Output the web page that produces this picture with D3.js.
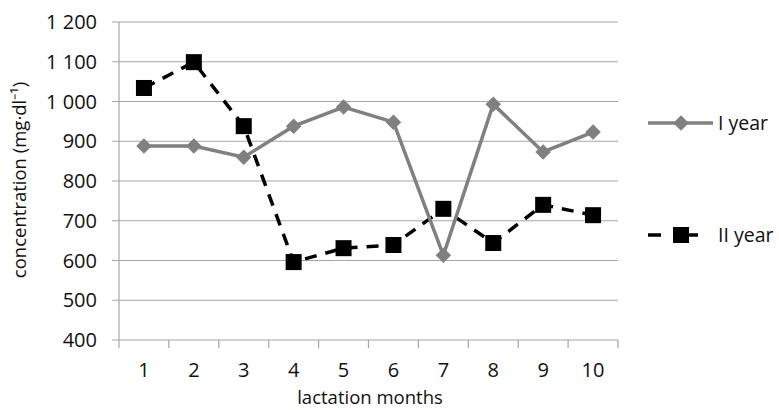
<!DOCTYPE html>
<html><head><meta charset="utf-8">
<script src="https://cdn.jsdelivr.net/npm/d3@7"></script>
<style>body{margin:0;background:#fff}</style>
</head><body>
<svg id="c" width="779" height="410"></svg>
<script>
const months = ["1","2","3","4","5","6","7","8","9","10"];
const yearI = [888, 888, 860, 938, 986, 948, 613, 993, 873, 923];
const yearII = [1034, 1099, 938, 596, 631, 639, 730, 644, 740, 714];
const yTicks = [400,500,600,700,800,900,1000,1100,1200];

(function(){
const svg = d3.select("#c");
const font = "'Open Sans', 'Liberation Sans', sans-serif";
const pl = 119, pr = 618, pt = 22, pb = 340;
const x = d3.scaleBand().domain(months).range([pl, pr]);
const y = d3.scaleLinear().domain([400,1200]).range([pb, pt]);
const fmt = v => d3.format(",")(v).replace(",", " ");
const txt = "#111";

svg.append("g").selectAll("line").data(yTicks).join("line")
  .attr("x1", pl - 7).attr("x2", pr)
  .attr("y1", d => y(d)).attr("y2", d => y(d))
  .attr("stroke", "#a6a6a6").attr("stroke-width", 1.2);
svg.append("line").attr("x1", pl).attr("x2", pl).attr("y1", pt).attr("y2", pb)
  .attr("stroke", "#a6a6a6").attr("stroke-width", 1.2);
const xTickPos = months.map(m => x(m)).concat([pr]);
svg.append("g").selectAll("line").data(xTickPos).join("line")
  .attr("x1", d => d).attr("x2", d => d).attr("y1", pb).attr("y2", pb + 8)
  .attr("stroke", "#a6a6a6").attr("stroke-width", 1.2);

svg.append("g").selectAll("text").data(yTicks).join("text")
  .attr("x", pl - 22).attr("y", d => y(d)).attr("dy", "0.35em")
  .attr("text-anchor", "end").attr("font-family", font).attr("font-size", 20).attr("fill", txt)
  .text(d => fmt(d));
svg.append("g").selectAll("text").data(months).join("text")
  .attr("x", d => x(d) + x.bandwidth()/2).attr("y", 377)
  .attr("text-anchor", "middle").attr("font-family", font).attr("font-size", 20).attr("fill", txt)
  .text(d => d);

svg.append("text").attr("x", 370).attr("y", 404).attr("text-anchor", "middle")
  .attr("font-family", font).attr("font-size", 18.5).attr("fill", txt).text("lactation months");
svg.append("text").attr("transform", "translate(26,180) rotate(-90)").attr("text-anchor", "middle")
  .attr("font-family", font).attr("font-size", 18.5).attr("fill", txt)
  .text("concentration (mg\u00b7dl\u207b\u00b9)");

const cx = (d, i) => x(months[i]) + x.bandwidth()/2;
const line = d3.line().x((d,i) => cx(d,i)).y(d => y(d));
const gray = "#808080";

svg.append("path").datum(yearII).attr("d", line).attr("fill", "none")
  .attr("stroke", "#000").attr("stroke-width", 3.5).attr("stroke-dasharray", "12,9");
svg.append("path").datum(yearI).attr("d", line).attr("fill", "none")
  .attr("stroke", gray).attr("stroke-width", 3.5);
svg.append("g").selectAll("path").data(yearI).join("path")
  .attr("transform", (d,i) => `translate(${cx(d,i)},${y(d)}) rotate(45)`)
  .attr("d", d3.symbol().type(d3.symbolSquare).size(120)).attr("fill", gray);
svg.append("g").selectAll("rect").data(yearII).join("rect")
  .attr("x", (d,i) => cx(d,i) - 8).attr("y", d => y(d) - 8)
  .attr("width", 16).attr("height", 16).attr("fill", "#000");

const lg = svg.append("g");
lg.append("line").attr("x1", 648).attr("x2", 713).attr("y1", 123).attr("y2", 123)
  .attr("stroke", gray).attr("stroke-width", 3.5);
lg.append("path").attr("transform", "translate(681,123) rotate(45)")
  .attr("d", d3.symbol().type(d3.symbolSquare).size(120)).attr("fill", gray);
lg.append("text").attr("x", 718).attr("y", 123).attr("dy", "0.35em")
  .attr("font-family", font).attr("font-size", 19.5).attr("fill", txt).text("I year");
lg.append("line").attr("x1", 648).attr("x2", 698).attr("y1", 235).attr("y2", 235)
  .attr("stroke", "#000").attr("stroke-width", 3.5).attr("stroke-dasharray", "13,25,12");
lg.append("rect").attr("x", 673).attr("y", 227).attr("width", 16).attr("height", 16).attr("fill", "#000");
lg.append("text").attr("x", 718).attr("y", 235).attr("dy", "0.35em")
  .attr("font-family", font).attr("font-size", 19.5).attr("fill", txt).text("II year");
})();
</script>
</body></html>
